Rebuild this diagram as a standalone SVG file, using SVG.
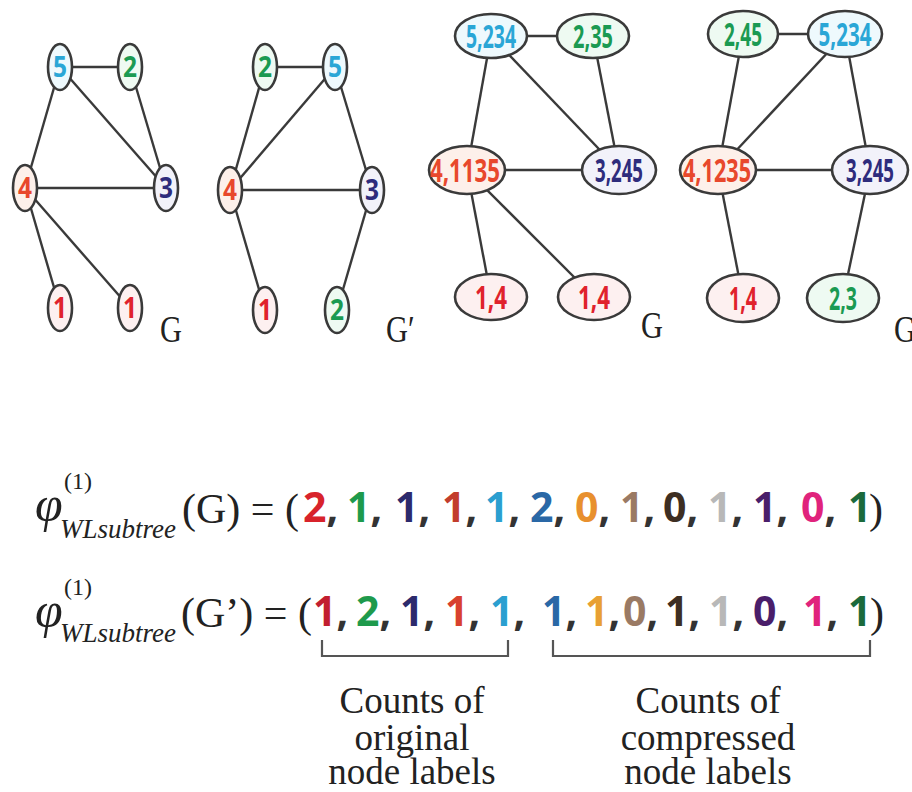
<svg xmlns="http://www.w3.org/2000/svg" width="912" height="792" viewBox="0 0 912 792">
  <style>
    .edge { stroke: #3a3a3a; stroke-width: 2.4; fill: none; }
    .node { stroke: #3a3a3a; stroke-width: 2.6; }
    .nl { font-family: "Open Sans", "DejaVu Sans", sans-serif; font-weight: bold; text-anchor: middle; }
    .small { font-size: 29px; }
    .big { font-size: 33px; }
    .gname { font-family: "Liberation Serif", serif; font-size: 38px; fill: #222; }
    .serif { font-family: "Liberation Serif", serif; fill: #222; }
    .num { font-family: "Open Sans", "DejaVu Sans", sans-serif; font-weight: bold; font-size: 41px; }
    .cm { fill: #333; }
    .brace { stroke: #555; stroke-width: 2.2; fill: none; }
    .cap { font-family: "Liberation Serif", serif; font-size: 37px; fill: #222; text-anchor: middle; }
    .c5 { fill: #2aa6d6; } .c2 { fill: #1b9a52; } .c4 { fill: #e8482c; } .c3 { fill: #2e2c7c; } .c1 { fill: #e0222c; }
    .f5 { fill: #eef9fd; } .f2 { fill: #eefaf2; } .f4 { fill: #fdf0ea; } .f3 { fill: #f2f2fa; } .f1 { fill: #fdf0f0; }
  </style>

  <!-- connectors -->
  <g id="connectors">
    <!-- graph G (original labels) -->
    <line class="edge" x1="60" y1="67" x2="130" y2="67"/>
    <line class="edge" x1="60" y1="67" x2="25" y2="188"/>
    <line class="edge" x1="60" y1="67" x2="166" y2="188"/>
    <line class="edge" x1="130" y1="67" x2="166" y2="188"/>
    <line class="edge" x1="25" y1="188" x2="166" y2="188"/>
    <line class="edge" x1="25" y1="188" x2="60" y2="308"/>
    <line class="edge" x1="25" y1="188" x2="130" y2="308"/>
    <!-- graph G' (original labels) -->
    <line class="edge" x1="265" y1="67" x2="335" y2="67"/>
    <line class="edge" x1="265" y1="67" x2="230" y2="190"/>
    <line class="edge" x1="335" y1="67" x2="230" y2="190"/>
    <line class="edge" x1="335" y1="67" x2="372" y2="190"/>
    <line class="edge" x1="230" y1="190" x2="372" y2="190"/>
    <line class="edge" x1="230" y1="190" x2="265" y2="310"/>
    <line class="edge" x1="372" y1="190" x2="337" y2="310"/>
    <!-- graph G (multiset labels) -->
    <line class="edge" x1="491" y1="36" x2="593" y2="36"/>
    <line class="edge" x1="491" y1="36" x2="467" y2="170"/>
    <line class="edge" x1="491" y1="36" x2="619" y2="170"/>
    <line class="edge" x1="593" y1="36" x2="619" y2="170"/>
    <line class="edge" x1="467" y1="170" x2="619" y2="170"/>
    <line class="edge" x1="467" y1="170" x2="491" y2="297"/>
    <line class="edge" x1="467" y1="170" x2="594" y2="297"/>
    <!-- graph G' (multiset labels) -->
    <line class="edge" x1="743" y1="34" x2="845" y2="34"/>
    <line class="edge" x1="743" y1="34" x2="718" y2="170"/>
    <line class="edge" x1="845" y1="34" x2="718" y2="170"/>
    <line class="edge" x1="845" y1="34" x2="870" y2="170"/>
    <line class="edge" x1="718" y1="170" x2="870" y2="170"/>
    <line class="edge" x1="718" y1="170" x2="743" y2="298"/>
    <line class="edge" x1="870" y1="170" x2="843" y2="298"/>
  </g>

  <!-- G, original labels -->
  <g id="g1-n5"><ellipse class="node f5" cx="60" cy="67" rx="12" ry="23"/><text class="nl small c5" x="60" y="77" textLength="14" lengthAdjust="spacingAndGlyphs">5</text></g>
  <g id="g1-n2"><ellipse class="node f2" cx="130" cy="67" rx="12" ry="23"/><text class="nl small c2" x="130" y="77" textLength="14" lengthAdjust="spacingAndGlyphs">2</text></g>
  <g id="g1-n4"><ellipse class="node f4" cx="25" cy="188" rx="12" ry="23"/><text class="nl small c4" x="25" y="198" textLength="14" lengthAdjust="spacingAndGlyphs">4</text></g>
  <g id="g1-n3"><ellipse class="node f3" cx="166" cy="188" rx="12" ry="23"/><text class="nl small c3" x="166" y="198" textLength="14" lengthAdjust="spacingAndGlyphs">3</text></g>
  <g id="g1-n1a"><ellipse class="node f1" cx="60" cy="308" rx="12" ry="23"/><text class="nl small c1" x="60" y="318" textLength="14" lengthAdjust="spacingAndGlyphs">1</text></g>
  <g id="g1-n1b"><ellipse class="node f1" cx="130" cy="308" rx="12" ry="23"/><text class="nl small c1" x="130" y="318" textLength="14" lengthAdjust="spacingAndGlyphs">1</text></g>
  <text class="gname" x="160" y="342" transform="translate(160 0) scale(0.8 1) translate(-160 0)">G</text>

  <!-- G', original labels -->
  <g id="g2-n2"><ellipse class="node f2" cx="265" cy="67" rx="12" ry="23"/><text class="nl small c2" x="265" y="77" textLength="14" lengthAdjust="spacingAndGlyphs">2</text></g>
  <g id="g2-n5"><ellipse class="node f5" cx="335" cy="67" rx="12" ry="23"/><text class="nl small c5" x="335" y="77" textLength="14" lengthAdjust="spacingAndGlyphs">5</text></g>
  <g id="g2-n4"><ellipse class="node f4" cx="230" cy="190" rx="12" ry="23"/><text class="nl small c4" x="230" y="200" textLength="14" lengthAdjust="spacingAndGlyphs">4</text></g>
  <g id="g2-n3"><ellipse class="node f3" cx="372" cy="190" rx="12" ry="23"/><text class="nl small c3" x="372" y="200" textLength="14" lengthAdjust="spacingAndGlyphs">3</text></g>
  <g id="g2-n1"><ellipse class="node f1" cx="265" cy="310" rx="12" ry="23"/><text class="nl small c1" x="265" y="320" textLength="14" lengthAdjust="spacingAndGlyphs">1</text></g>
  <g id="g2-n2b"><ellipse class="node f2" cx="337" cy="310" rx="12" ry="23"/><text class="nl small c2" x="337" y="320" textLength="14" lengthAdjust="spacingAndGlyphs">2</text></g>
  <text class="gname" x="386" y="342" transform="translate(386 0) scale(0.8 1) translate(-386 0)">G′</text>

  <!-- G, multiset labels -->
  <g id="g3-n5"><ellipse class="node f5" cx="491" cy="36" rx="36" ry="22"/><text class="nl big c5" x="491" y="48" textLength="50" lengthAdjust="spacingAndGlyphs">5,234</text></g>
  <g id="g3-n2"><ellipse class="node f2" cx="593" cy="36" rx="36" ry="22"/><text class="nl big c2" x="593" y="48" textLength="40" lengthAdjust="spacingAndGlyphs">2,35</text></g>
  <g id="g3-n4"><ellipse class="node f4" cx="467" cy="170" rx="38" ry="24"/><text class="nl big c4" x="465" y="182" textLength="70" lengthAdjust="spacingAndGlyphs">4,1135</text></g>
  <g id="g3-n3"><ellipse class="node f3" cx="619" cy="170" rx="37" ry="24"/><text class="nl big c3" x="619" y="182" textLength="48" lengthAdjust="spacingAndGlyphs">3,245</text></g>
  <g id="g3-n1a"><ellipse class="node f1" cx="491" cy="297" rx="36" ry="23"/><text class="nl big c1" x="491" y="309" textLength="32" lengthAdjust="spacingAndGlyphs">1,4</text></g>
  <g id="g3-n1b"><ellipse class="node f1" cx="594" cy="297" rx="36" ry="23"/><text class="nl big c1" x="594" y="309" textLength="32" lengthAdjust="spacingAndGlyphs">1,4</text></g>
  <text class="gname" x="641" y="338" transform="translate(641 0) scale(0.8 1) translate(-641 0)">G</text>

  <!-- G', multiset labels -->
  <g id="g4-n2"><ellipse class="node f2" cx="743" cy="34" rx="35" ry="23"/><text class="nl big c2" x="743" y="46" textLength="38" lengthAdjust="spacingAndGlyphs">2,45</text></g>
  <g id="g4-n5"><ellipse class="node f5" cx="845" cy="34" rx="37" ry="23"/><text class="nl big c5" x="845" y="46" textLength="53" lengthAdjust="spacingAndGlyphs">5,234</text></g>
  <g id="g4-n4"><ellipse class="node f4" cx="718" cy="170" rx="38" ry="24"/><text class="nl big c4" x="717" y="182" textLength="68" lengthAdjust="spacingAndGlyphs">4,1235</text></g>
  <g id="g4-n3"><ellipse class="node f3" cx="870" cy="170" rx="38" ry="24"/><text class="nl big c3" x="870" y="182" textLength="48" lengthAdjust="spacingAndGlyphs">3,245</text></g>
  <g id="g4-n1"><ellipse class="node f1" cx="743" cy="298" rx="36" ry="24"/><text class="nl big c1" x="743" y="310" textLength="28" lengthAdjust="spacingAndGlyphs">1,4</text></g>
  <g id="g4-n2b"><ellipse class="node f2" cx="843" cy="298" rx="36" ry="24"/><text class="nl big c2" x="843" y="310" textLength="28" lengthAdjust="spacingAndGlyphs">2,3</text></g>
  <text class="gname" x="894" y="342" transform="translate(894 0) scale(0.8 1) translate(-894 0)">G′</text>

  <!-- feature vector of G -->
  <g id="phi-G">
    <text class="serif" x="35" y="521" font-size="50" font-style="italic">φ</text>
    <text class="serif" x="64" y="489" font-size="24">(1)</text>
    <text class="serif" x="60" y="538" font-size="27" font-style="italic">WLsubtree</text>
    <text class="serif" x="182" y="523" font-size="42">(G) = (</text>
    <text class="num" y="522">
      <tspan x="303" fill="#d8232b">2</tspan><tspan class="cm">,</tspan>
      <tspan x="347" fill="#1e9a4c">1</tspan><tspan class="cm">,</tspan>
      <tspan x="395" fill="#2c2a6c">1</tspan><tspan class="cm">,</tspan>
      <tspan x="442" fill="#c23d2c">1</tspan><tspan class="cm">,</tspan>
      <tspan x="485" fill="#2b9fd0">1</tspan><tspan class="cm">,</tspan>
      <tspan x="530" fill="#2a68a6">2</tspan><tspan class="cm">,</tspan>
      <tspan x="575" fill="#e8902e">0</tspan><tspan class="cm">,</tspan>
      <tspan x="620" fill="#9a7a64">1</tspan><tspan class="cm">,</tspan>
      <tspan x="663" fill="#3d2e22">0</tspan><tspan class="cm">,</tspan>
      <tspan x="708" fill="#b8b8b8">1</tspan><tspan class="cm">,</tspan>
      <tspan x="753" fill="#4a1e6a">1</tspan><tspan class="cm">,</tspan>
      <tspan x="801" fill="#e0237c">0</tspan><tspan class="cm">,</tspan>
      <tspan x="848" fill="#1b6a3c">1</tspan>
    </text>
    <text class="serif" x="869" y="523" font-size="42">)</text>
  </g>

  <!-- feature vector of G' -->
  <g id="phi-G2">
    <text class="serif" x="35" y="627" font-size="50" font-style="italic">φ</text>
    <text class="serif" x="64" y="595" font-size="24">(1)</text>
    <text class="serif" x="60" y="642" font-size="27" font-style="italic">WLsubtree</text>
    <text class="serif" x="181" y="627" font-size="42">(G’) = (</text>
    <text class="num" y="626">
      <tspan x="313" fill="#c21e30">1</tspan><tspan class="cm">,</tspan>
      <tspan x="356" fill="#1e9a4c">2</tspan><tspan class="cm">,</tspan>
      <tspan x="400" fill="#2c2a6c">1</tspan><tspan class="cm">,</tspan>
      <tspan x="445" fill="#d8412e">1</tspan><tspan class="cm">,</tspan>
      <tspan x="490" fill="#2b9fd0">1</tspan><tspan class="cm">,</tspan>
      <tspan x="542" fill="#2a68a6">1</tspan><tspan class="cm">,</tspan>
      <tspan x="585" fill="#e8a033">1</tspan><tspan class="cm">,</tspan>
      <tspan x="623" fill="#9a7a64">0</tspan><tspan class="cm">,</tspan>
      <tspan x="665" fill="#3d2e22">1</tspan><tspan class="cm">,</tspan>
      <tspan x="709" fill="#b8b8b8">1</tspan><tspan class="cm">,</tspan>
      <tspan x="753" fill="#4a1e6a">0</tspan><tspan class="cm">,</tspan>
      <tspan x="803" fill="#e0237c">1</tspan><tspan class="cm">,</tspan>
      <tspan x="848" fill="#1b6a3c">1</tspan>
    </text>
    <text class="serif" x="870" y="627" font-size="42">)</text>
  </g>

  <!-- brackets and captions -->
  <g id="bracket-original">
    <polyline class="brace" points="322,640 322,656 508,656 508,640"/>
    <text class="cap" x="412" y="713">Counts of</text>
    <text class="cap" x="412" y="750">original</text>
    <text class="cap" x="412" y="784">node labels</text>
  </g>
  <g id="bracket-compressed">
    <polyline class="brace" points="553,640 553,656 870,656 870,640"/>
    <text class="cap" x="708" y="713">Counts of</text>
    <text class="cap" x="708" y="750">compressed</text>
    <text class="cap" x="708" y="784">node labels</text>
  </g>
</svg>
